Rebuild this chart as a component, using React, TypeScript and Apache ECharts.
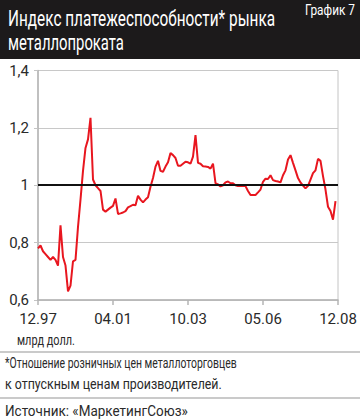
import React, { useEffect, useRef } from "react";
import * as echarts from "echarts";

const tickLabels = ["12.97", "04.01", "10.03", "05.06", "12.08"];
const pointsPerTick = 30;

const indexValues = [
  0.78, 0.79, 0.77, 0.76, 0.75, 0.74, 0.75, 0.74, 0.72, 0.86,
  0.75, 0.72, 0.63, 0.65, 0.735, 0.74, 0.855, 0.95, 1.05, 1.13,
  1.16, 1.235, 1.02, 1.0, 0.99, 0.98, 0.915, 0.908, 0.915, 0.922,
  0.928, 0.954, 0.9, 0.902, 0.905, 0.91, 0.923, 0.927, 0.932, 0.93,
  0.963, 0.95, 0.94, 0.95, 0.958, 0.995, 1.025, 1.065, 1.085, 1.05,
  1.047, 1.065, 1.08, 1.112, 1.105, 1.095, 1.068, 1.068, 1.075, 1.082,
  1.08, 1.075, 1.1, 1.175, 1.078, 1.075, 1.066, 1.065, 1.064, 1.058,
  1.075, 1.007, 1.003, 0.996, 1.0, 1.01, 1.013, 1.007, 1.007, 1.0,
  0.997, 0.997, 0.997, 0.997, 0.98, 0.966, 0.966, 0.966, 0.975, 0.985,
  1.012, 1.023, 1.022, 1.035, 1.018, 1.015, 1.013, 1.01, 1.035, 1.052,
  1.09, 1.105, 1.078, 1.052, 1.025, 1.01, 0.999, 0.989, 0.998, 1.02,
  1.042, 1.052, 1.092, 1.085, 1.032, 0.985, 0.925, 0.91, 0.88, 0.945,
];

const referenceLevel = 1;

const titleLines = ["Индекс платежеспособности* рынка", "металлопроката"];
const chartNumber = "График 7";
const unitNote = "млрд долл.";
const footnoteLines = [
  "*Отношение розничных цен металлоторговцев",
  "к отпускным ценам производителей.",
];
const sourceText = "Источник: «МаркетингСоюз»";

const FONT = "Roboto, 'Noto Sans', sans-serif";

function measure(text: string, font: string): number {
  const c = document.createElement("canvas");
  const ctx = c.getContext("2d");
  if (!ctx) return text.length * 8;
  ctx.font = font;
  return ctx.measureText(text).width;
}

function fitText(
  text: string,
  x: number,
  y: number,
  size: number,
  width: number,
  fill: string,
  align: "left" | "right" = "left"
) {
  const font = `${size}px ${FONT}`;
  const w = measure(text, font);
  const s = w > 0 ? Math.min(1, width / w) : 1;
  return {
    type: "text",
    x,
    y,
    scaleX: s,
    style: { text, fill, font, align, verticalAlign: "middle" },
  };
}

export default function App() {
  const ref = useRef<HTMLDivElement>(null);

  useEffect(() => {
    if (!ref.current) return;
    const chart = echarts.init(ref.current, null, { renderer: "svg" });

    const totalCats = (tickLabels.length - 1) * pointsPerTick + 1;
    const categories: string[] = [];
    for (let i = 0; i < totalCats; i++) {
      categories.push(i % pointsPerTick === 0 ? tickLabels[i / pointsPerTick] : "");
    }

    chart.setOption({
      animation: false,
      backgroundColor: "#ffffff",
      textStyle: { fontFamily: FONT },
      grid: {
        left: 38,
        right: 22,
        top: 70.5,
        bottom: 120,
        show: true,
        borderColor: "#c4c4c4",
        borderWidth: 1,
        backgroundColor: "transparent",
      },
      xAxis: {
        type: "category",
        data: categories,
        boundaryGap: false,
        axisLine: { show: true, lineStyle: { color: "#b4b4b4", width: 1.5 } },
        axisTick: {
          show: true,
          interval: pointsPerTick - 1,
          length: 5,
          lineStyle: { color: "#b4b4b4", width: 1.5 },
        },
        axisLabel: {
          interval: pointsPerTick - 1,
          color: "#2a2a2a",
          fontSize: 15,
          fontFamily: FONT,
          margin: 11,
        },
        splitLine: { show: false },
      },
      yAxis: {
        type: "value",
        min: 0.6,
        max: 1.4,
        interval: 0.2,
        axisLine: { show: true, lineStyle: { color: "#b4b4b4", width: 1.5 } },
        axisTick: { show: true, length: 4, lineStyle: { color: "#c4c4c4" } },
        axisLabel: {
          color: "#2a2a2a",
          fontSize: 15,
          fontFamily: FONT,
          margin: 9,
          formatter: (v: number) => String(+v.toFixed(1)).replace(".", ","),
        },
        splitLine: { show: true, lineStyle: { color: "#c8c8c8", width: 1.2 } },
      },
      series: [
        {
          type: "line",
          data: [],
          z: 1,
          silent: true,
          markLine: {
            silent: true,
            symbol: "none",
            label: { show: false },
            lineStyle: { color: "#111111", width: 2.2, type: "solid" },
            data: [{ yAxis: referenceLevel }],
          },
        },
        {
          type: "line",
          data: indexValues,
          z: 3,
          showSymbol: false,
          symbol: "none",
          lineStyle: { color: "#e8161f", width: 2 },
        },
      ],
      graphic: [
        { type: "rect", shape: { x: 0, y: 0, width: 360, height: 59 }, style: { fill: "#1c1a1b" } },
        fitText(titleLines[0], 8, 18, 22, 267, "#ffffff"),
        fitText(titleLines[1], 8, 43, 22, 116, "#ffffff"),
        fitText(chartNumber, 355, 10, 14, 50, "#ffffff", "right"),
        fitText(unitNote, 17, 340, 14, 58, "#2a2a2a"),
        { type: "line", shape: { x1: 0, y1: 352, x2: 360, y2: 352 }, style: { stroke: "#b8b8b8", lineWidth: 1.5 } },
        fitText(footnoteLines[0], 5, 363, 14, 232, "#2a2a2a"),
        fitText(footnoteLines[1], 5, 384, 14, 217, "#2a2a2a"),
        { type: "line", shape: { x1: 0, y1: 398, x2: 360, y2: 398 }, style: { stroke: "#b8b8b8", lineWidth: 1.5 } },
        fitText(sourceText, 5, 411, 15, 183, "#2a2a2a"),
      ],
    });

    return () => chart.dispose();
  }, []);

  return (
    <div
      ref={ref}
      style={{ position: "absolute", left: 0, top: 0, width: 360, height: 420 }}
    />
  );
}
